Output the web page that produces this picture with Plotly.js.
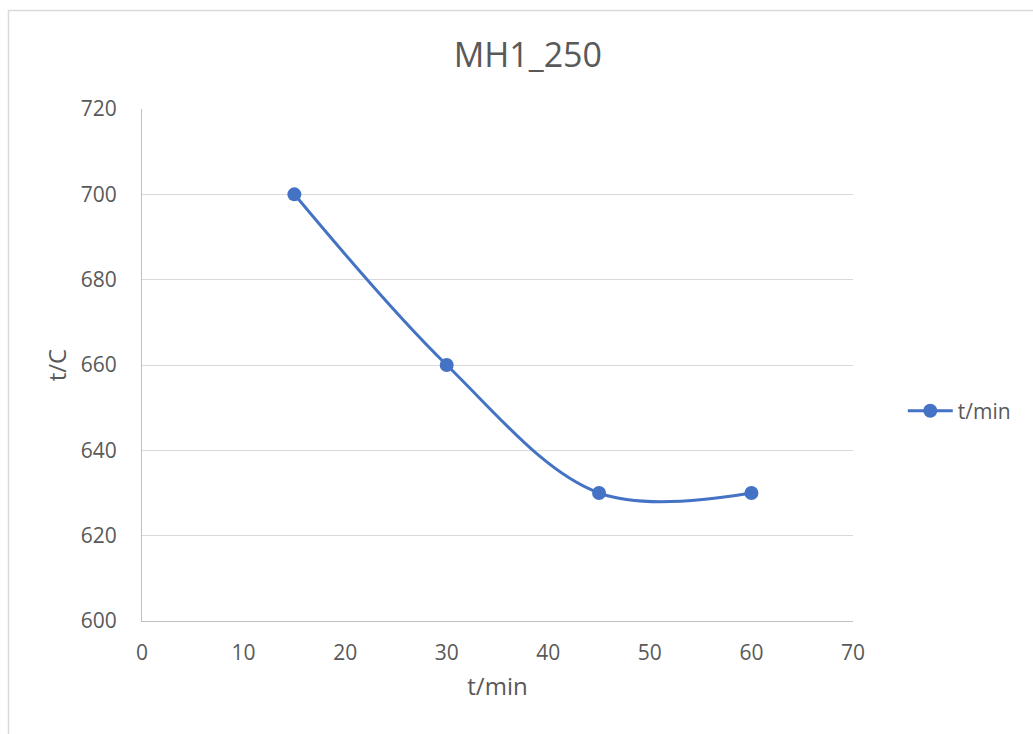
<!DOCTYPE html>
<html><head><meta charset="utf-8">
<script src="https://cdn.plot.ly/plotly-3.0.1.min.js"></script>
<style>html,body{margin:0;padding:0;background:#fff;}#chart{width:1033px;height:734px;}</style>
</head><body><div id="chart"></div>
<script>
const xValues = [15, 30, 45, 60];
const yValues = [700, 660, 630, 630];
const seriesName = 't/min';
const chartTitle = 'MH1_250';
const xTitle = 't/min';
const yTitle = 't/C';
const xTicks = [0, 10, 20, 30, 40, 50, 60, 70];
const yTicks = [600, 620, 640, 660, 680, 700, 720];

const font = '"Open Sans", "Liberation Sans", sans-serif';
const trace = {
  x: xValues, y: yValues, name: seriesName, type: 'scatter', mode: 'lines+markers',
  line: {color: '#4472C4', width: 3, shape: 'spline', smoothing: 1},
  marker: {color: '#4472C4', size: 14}
};
const layout = {
  width: 1033, height: 734,
  margin: {l: 142, r: 180, t: 109, b: 113},
  paper_bgcolor: '#fff', plot_bgcolor: '#fff',
  font: {family: font, color: '#595959', size: 21},
  title: {text: chartTitle, font: {family: font, size: 34, color: '#595959'}, x: 0.511, xref: 'container', y: 0.925, yref: 'container', xanchor: 'center', yanchor: 'middle'},
  xaxis: {range: [0, 70], tickvals: xTicks, showgrid: false, zeroline: false, showline: true, linecolor: '#BFBFBF', linewidth: 1,
          ticks: 'outside', ticklen: 13, tickcolor: 'rgba(0,0,0,0)', tickfont: {size: 21, color: '#595959'},
          title: {text: xTitle, font: {size: 24, color: '#595959'}, standoff: 12}},
  yaxis: {range: [600, 720], tickvals: yTicks, showgrid: true, gridcolor: '#D9D9D9', gridwidth: 1, zeroline: false, showline: true, linecolor: '#BFBFBF', linewidth: 1,
          ticks: 'outside', ticklen: 20, tickcolor: 'rgba(0,0,0,0)', tickfont: {size: 21, color: '#595959'},
          title: {text: yTitle, font: {size: 24, color: '#595959'}, standoff: 7}},
  showlegend: true,
  legend: {x: 1.07, y: 0.41, xanchor: 'left', yanchor: 'middle', itemwidth: 45, font: {size: 21, color: '#595959'}, bgcolor: 'rgba(0,0,0,0)'},
  shapes: [{type: 'rect', xref: 'paper', yref: 'paper', x0: -0.1878, x1: 1.27, y0: -0.24, y1: 1.1924,
            line: {color: '#D9D9D9', width: 1.5}, fillcolor: 'rgba(0,0,0,0)', layer: 'below'}]
};
Plotly.newPlot('chart', [trace], layout, {displayModeBar: false, staticPlot: true});
</script></body></html>
